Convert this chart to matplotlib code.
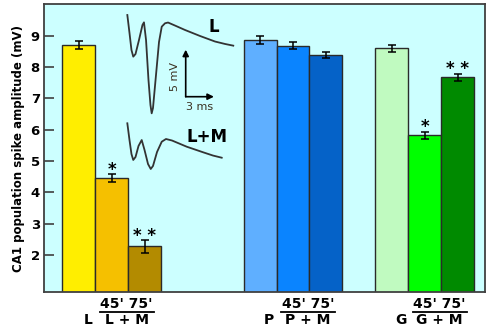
import matplotlib
matplotlib.use("Agg")
import matplotlib.pyplot as plt
import matplotlib.transforms as mtransforms

# ── data ─────────────────────────────────────────────────────────────────────
groups = ["L", "P", "G"]
group_start = [0.0, 5.5, 9.5]          # x of first bar in each group

L_vals = [8.70, 4.45, 2.28]
L_errs = [0.12, 0.12, 0.20]
P_vals = [8.87, 8.68, 8.39]
P_errs = [0.13, 0.12, 0.10]
G_vals = [8.60, 5.82, 7.67]
G_errs = [0.11, 0.11, 0.12]

L_colors = ["#FFEE00", "#F5C000", "#B38B00"]
P_colors = ["#5FAFFF", "#0A84FF", "#0562C8"]
G_colors = ["#C0FAC0", "#00FF00", "#008A00"]

# significance marks per bar ("" = none)
L_marks = ["", "*", "* *"]
P_marks = ["", "", ""]
G_marks = ["", "*", "* *"]

# example field potential traces (ms, mV)
top_t = [0.78, 1.01, 1.22, 1.41, 1.65, 2.02, 2.39, 2.55, 2.77, 3.03, 3.24, 3.37,
         3.51, 3.83, 4.15, 4.44, 4.79, 5.11, 5.85, 6.91, 8.51, 10.11, 11.17, 12.05]
top_v = [17.02, 15.11, 13.30, 12.59, 12.87, 14.36, 15.96, 16.24, 14.36, 10.11, 7.45,
         6.56, 7.13, 10.64, 14.15, 15.78, 16.14, 16.22, 15.90, 15.43, 14.79, 14.20,
         13.94, 13.76]
bot_t = [0.78, 1.01, 1.22, 1.41, 1.65, 1.97, 2.31, 2.61, 2.98, 3.27, 3.51, 3.94,
         4.44, 4.89, 5.53, 7.10, 8.86, 9.89, 10.82]
bot_v = [5.50, 3.72, 2.23, 1.60, 1.91, 3.09, 3.72, 2.66, 1.17, 0.64, 0.96, 2.45,
         3.54, 3.83, 3.67, 3.01, 2.41, 2.07, 1.84]
scale_mv = 5
scale_ms = 3

FONT = "DejaVu Sans"
DARK = "#333333"

fig = plt.figure(figsize=(4.9, 3.3), dpi=100)
ax = fig.add_axes([44 / 490, 38 / 330, 441 / 490, 287.7 / 330])
ax.set_facecolor("#CCFFFF")

series = [(L_vals, L_errs, L_colors, L_marks),
          (P_vals, P_errs, P_colors, P_marks),
          (G_vals, G_errs, G_colors, G_marks)]

for start, (vals, errs, cols, marks) in zip(group_start, series):
    xs = [start + i for i in range(len(vals))]
    ax.bar(xs, vals, width=1.0, color=cols, edgecolor="#2a2a2a", linewidth=1.0,
           yerr=errs, capsize=3.2, error_kw=dict(ecolor="black", elinewidth=1.1,
                                                 capthick=1.1), zorder=2)
    for x, v, e, m in zip(xs, vals, errs, marks):
        if m:
            ax.annotate(m, (x, v + e), xytext=(0, -3.3), textcoords="offset points",
                        ha="center", va="bottom", fontsize=12, fontweight="bold",
                        family=FONT, color="black")

ax.set_xlim(-1.06, 12.33)
ax.set_ylim(0.82, 10)
ax.set_yticks(range(2, 10))
ax.set_xticks([])
ax.tick_params(axis="y", direction="in", length=7, width=1.2, color="#404040",
               pad=3, labelsize=9.5)
for lab in ax.get_yticklabels():
    lab.set_fontweight("bold")
    lab.set_family(FONT)
for sp in ax.spines.values():
    sp.set_color("#404040")
    sp.set_linewidth(1.3)

ax.set_ylabel("CA1 population spike amplitude (mV)", fontsize=8.5,
              fontweight="bold", family=FONT, labelpad=4)

# group labels under the axis: "X   45' 75' / X + M"
trans = mtransforms.blended_transform_factory(ax.transData, ax.transAxes)
for g, start in zip(groups, group_start):
    ax.text(start + 0.27, -0.097, g, transform=trans, ha="center", va="center",
            fontsize=10, fontweight="bold", family=FONT)
    ax.text(start + 1.45, -0.040, "45' 75'", transform=trans, ha="center",
            va="center", fontsize=10, fontweight="bold", family=FONT)
    ax.plot([start + 0.63, start + 2.28], [-0.071, -0.071], transform=trans,
            color="black", lw=1.3, clip_on=False)
    ax.text(start + 1.45, -0.097, f"{g} + M", transform=trans, ha="center",
            va="center", fontsize=10, fontweight="bold", family=FONT)

# inset traces with scale bar
ins = fig.add_axes([120 / 490, 155 / 330, 120 / 490, 170 / 330])
ins.set_xlim(0, 120 / 9.4)
ins.set_ylim(0, 170 / 9.4)
ins.axis("off")
ins.patch.set_alpha(0)
ins.plot(top_t, top_v, color=DARK, lw=1.3, clip_on=False)
ins.plot(bot_t, bot_v, color=DARK, lw=1.3, clip_on=False)

corner = (6.99, 8.33)
arrow = dict(arrowstyle="-|>", color="black", lw=1.2, mutation_scale=9,
             shrinkA=0, shrinkB=0)
ins.annotate("", xy=(corner[0], corner[1] + scale_mv), xytext=corner,
             arrowprops=arrow)
ins.annotate("", xy=(corner[0] + scale_ms, corner[1]), xytext=corner,
             arrowprops=arrow)
ins.text(5.85, 10.43, f"{scale_mv} mV", rotation=90, ha="center", va="center",
         fontsize=8, color="#3a3020", family=FONT)
ins.text(8.51, 7.27, f"{scale_ms} ms", ha="center", va="center",
         fontsize=8, color="#3a3020", family=FONT)
ins.text(10.0, 15.74, "L", ha="center", va="center", fontsize=12,
         fontweight="bold", family=FONT)
ins.text(9.26, 4.04, "L+M", ha="center", va="center", fontsize=12,
         fontweight="bold", family=FONT)

fig.savefig("out.png", dpi=100)
